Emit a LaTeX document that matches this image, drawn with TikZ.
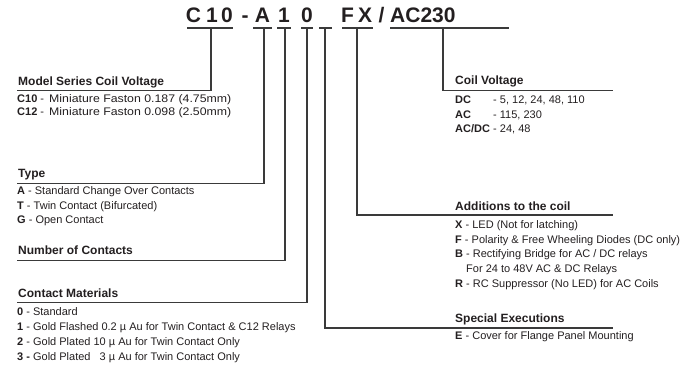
\documentclass[tikz,border=0pt]{standalone}
\usepackage{fontspec}
\setmainfont{Liberation Sans}
\definecolor{ink}{HTML}{231F20}
\definecolor{rulec}{HTML}{3A3A3A}
\begin{document}
\begin{tikzpicture}[x=1pt,y=-1pt,
  ttl/.style={anchor=base, font=\fontsize{21}{21}\selectfont\bfseries, text=ink, inner sep=0},
  hd/.style={anchor=base west, font=\fontsize{12}{14}\selectfont\bfseries, text=ink, inner sep=0},
  bd/.style={anchor=base west, font=\fontsize{11}{13}\selectfont, text=ink, inner sep=0},
  ln/.style={draw=rulec, line width=1.1pt}]
\useasboundingbox (0,0) rectangle (688,366);

% title characters
\node[ttl] (tC)  at (193.5,23) {C};
\node[ttl] (t1)  at (212,23) {1};
\node[ttl] (t0)  at (227,23) {0};
\node[ttl] (td)  at (245,23) {-};
\node[ttl] (tA)  at (262.5,23) {A};
\node[ttl] (t1b) at (284,23) {1};
\node[ttl] (t0b) at (307,23) {0};
\node[ttl] (tF)  at (347.5,23) {F};
\node[ttl] (tX)  at (365,23) {X};
\node[ttl] (ts)  at (381.5,23) {/};
\node[ttl,anchor=base west] (tV) at (390,23) {AC230};

% underlines
\coordinate (u1a) at (187,28);  \coordinate (u1b) at (233,28);
\coordinate (u2a) at (253,28);  \coordinate (u2b) at (272,28);
\coordinate (u3a) at (277,28);  \coordinate (u3b) at (291,28);
\coordinate (u4a) at (301,28);  \coordinate (u4b) at (313,28);
\coordinate (u5a) at (319,28);  \coordinate (u5b) at (332,28);
\coordinate (u6a) at (342,28);  \coordinate (u6b) at (373,28);
\coordinate (u7a) at (390,28);  \coordinate (u7b) at (509,28);
\foreach \s in {1,...,7} {\draw[ln] (u\s a) -- (u\s b);}

% connector roots
\coordinate (r1) at (211,28);
\coordinate (r2) at (264,28);
\coordinate (r3) at (285,28);
\coordinate (r4) at (307,28);
\coordinate (r5) at (325,28);
\coordinate (r6) at (357,28);
\coordinate (r7) at (443,28);

% heading line corners and ends
\coordinate (k1) at (211,90.5);  \coordinate (e1) at (17,90.5);
\coordinate (k2) at (264,183.5); \coordinate (e2) at (17,183.5);
\coordinate (k3) at (285,260.5); \coordinate (e3) at (17,260.5);
\coordinate (k4) at (307,302.5); \coordinate (e4) at (17,302.5);
\coordinate (k5) at (325,328);   \coordinate (e5) at (613,328);
\coordinate (k6) at (357,215);   \coordinate (e6) at (613,215);
\coordinate (k7) at (443,90.5);  \coordinate (e7) at (613,90.5);

\draw[ln] (r1) -- (k1) -- (e1);
\draw[ln] (r2) -- (k2) -- (e2);
\draw[ln] (r3) -- (k3) -- (e3);
\draw[ln] (r4) -- (k4) -- (e4);
\draw[ln] (r5) -- (k5) -- (e5);
\draw[ln] (r6) -- (k6) -- (e6);
\draw[ln] (r7) -- (k7) -- (e7);

% left column
\node[hd] (hModel) at (18,85.5) {Model Series Coil Voltage};
\node[bd] (m1) at (17,103) {\textbf{C10} -};
\node[bd] (m1b) at (49,103) {\scalebox{1.12}[1]{Miniature Faston 0.187 (4.75mm)}};
\node[bd] (m2) at (17,116) {\textbf{C12} -};
\node[bd] (m2b) at (49,116) {\scalebox{1.12}[1]{Miniature Faston 0.098 (2.50mm)}};

\node[hd] (hType) at (18,177.5) {Type};
\node[bd] (y1) at (17,195) {\textbf{A} - Standard Change Over Contacts};
\node[bd] (y2) at (17,209.5) {\textbf{T} - Twin Contact (Bifurcated)};
\node[bd] (y3) at (17,223.5) {\textbf{G} - Open Contact};

\node[hd] (hNum) at (18,254.5) {Number of Contacts};

\node[hd] (hMat) at (18,297.5) {Contact Materials};
\node[bd] (c0) at (17,315.5) {\textbf{0} - Standard};
\node[bd] (c1) at (17,330.5) {\textbf{1} - Gold Flashed 0.2 µ Au for Twin Contact \& C12 Relays};
\node[bd] (c2) at (17,345.5) {\textbf{2} - Gold Plated 10 µ Au for Twin Contact Only};
\node[bd] (c3) at (17,360.5) {\textbf{3 -} Gold Plated\ \ \ 3 µ Au for Twin Contact Only};

% right column
\node[hd] (hCoil) at (455,84.5) {Coil Voltage};
\node[bd] (v1) at (455,104) {\textbf{DC}};
\node[bd] (v1b) at (493,104) {- 5, 12, 24, 48, 110};
\node[bd] (v2) at (455,118.5) {\textbf{AC}};
\node[bd] (v2b) at (493,118.5) {- 115, 230};
\node[bd] (v3) at (455,133) {\textbf{AC/DC}};
\node[bd] (v3b) at (493,133) {- 24, 48};

\node[hd] (hAdd) at (455,210.5) {Additions to the coil};
\node[bd] (a1) at (455,229) {\textbf{X} - LED (Not for latching)};
\node[bd] (a2) at (455,243.5) {\textbf{F} - Polarity \& Free Wheeling Diodes (DC only)};
\node[bd] (a3) at (455,258) {\textbf{B} - Rectifying Bridge for AC / DC relays};
\node[bd] (a4) at (466,272.5) {For 24 to 48V AC \& DC Relays};
\node[bd] (a5) at (455,287) {\textbf{R} - RC Suppressor (No LED) for AC Coils};

\node[hd] (hSpec) at (455,322) {Special Executions};
\node[bd] (s1) at (455,339.5) {\textbf{E} - Cover for Flange Panel Mounting};
\end{tikzpicture}
\end{document}
